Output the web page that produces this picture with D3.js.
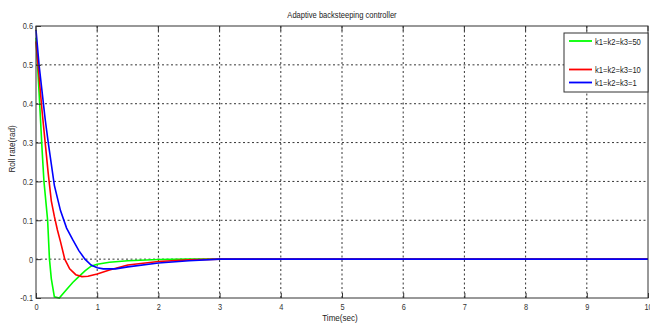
<!DOCTYPE html>
<html><head><meta charset="utf-8">
<script src="https://cdn.jsdelivr.net/npm/d3@7"></script>
<style>body{margin:0;background:#fff}svg{display:block}text{font-family:"Liberation Sans",Arial,sans-serif}</style>
</head><body>
<svg id="c" width="650" height="327"></svg>
<script>
const xTicks = [0,1,2,3,4,5,6,7,8,9,10];
const yTicks = [-0.1,0,0.1,0.2,0.3,0.4,0.5,0.6];
const yTickLabels = ["-0.1","0","0.1","0.2","0.3","0.4","0.5","0.6"];
const seriesNames = ["k1=k2=k3=50","k1=k2=k3=10","k1=k2=k3=1"];
const seriesColors = ["#00ff00","#ff0000","#0000ff"];
const tGreen = [0,0.05,0.1,0.13,0.19,0.22,0.25,0.3,0.38,0.5,0.6,0.7,0.8,0.9,1.0,1.2,1.5,2,2.5,3,10];
const vGreen = [0.57,0.43,0.28,0.2,0.1,0,-0.05,-0.097,-0.1,-0.078,-0.06,-0.045,-0.03,-0.018,-0.013,-0.008,-0.004,-0.001,0,0,0];
const tRed = [0,0.05,0.1,0.15,0.2,0.25,0.3,0.35,0.4,0.47,0.55,0.65,0.75,0.85,1.0,1.2,1.5,2,2.5,3,10];
const vRed = [0.56,0.47,0.38,0.3,0.22,0.15,0.11,0.075,0.045,0,-0.025,-0.04,-0.045,-0.044,-0.038,-0.028,-0.015,-0.006,-0.002,0,0];
const tBlue = [0,0.05,0.1,0.15,0.2,0.3,0.4,0.5,0.6,0.7,0.8,0.9,1.0,1.1,1.3,1.5,2,2.5,3,10];
const vBlue = [0.59,0.5,0.43,0.36,0.3,0.19,0.125,0.08,0.05,0.022,0,-0.015,-0.022,-0.025,-0.025,-0.02,-0.01,-0.004,0,0];

const svg = d3.select("#c");
const L=36,R=648,T=26,B=298;
const x = d3.scaleLinear().domain([0,10]).range([L,R]);
const y = d3.scaleLinear().domain([-0.1,0.6]).range([B,T]);
function squeeze(sel,f){ sel.each(function(){ const w=this.getComputedTextLength(); this.setAttribute("textLength",w*f); this.setAttribute("lengthAdjust","spacingAndGlyphs"); }); }

// grid
const g = svg.append("g");
g.selectAll(".gx").data(xTicks.slice(1,-1)).enter().append("line")
 .attr("x1",d=>x(d)).attr("x2",d=>x(d)).attr("y1",T).attr("y2",B)
 .attr("stroke","#000").attr("stroke-width",0.8).attr("stroke-dasharray","2,2.5");
g.selectAll(".gy").data(yTicks.slice(1,-1)).enter().append("line")
 .attr("x1",L).attr("x2",R).attr("y1",d=>y(d)).attr("y2",d=>y(d))
 .attr("stroke","#000").attr("stroke-width",0.8).attr("stroke-dasharray","2,2.5");

// series
const line = d3.line().x(d=>x(d[0])).y(d=>y(d[1]));
const series = [[tGreen,vGreen],[tRed,vRed],[tBlue,vBlue]];
series.forEach((s,i)=>{
  const pts = s[0].map((t,j)=>[t,s[1][j]]);
  svg.append("path").datum(pts).attr("d",line).attr("fill","none")
   .attr("stroke",seriesColors[i]).attr("stroke-width",1.6);
});

// axes box
svg.append("rect").attr("x",L).attr("y",T).attr("width",R-L).attr("height",B-T)
 .attr("fill","none").attr("stroke","#333").attr("stroke-width",1);

// ticks
const xa = d3.axisBottom(x).tickValues(xTicks).tickSize(-5).tickPadding(5.5).tickFormat(d3.format("d"));
const xg = svg.append("g").attr("transform",`translate(0,${B})`).call(xa);
const ya = d3.axisLeft(y).tickValues(yTicks).tickSize(-5).tickPadding(3).tickFormat((d,i)=>yTickLabels[i]);
const yg = svg.append("g").attr("transform",`translate(${L},0)`).call(ya);
[xg,yg].forEach(a=>{
  a.select(".domain").remove();
  a.selectAll("line").attr("stroke","#333");
  a.selectAll("text").attr("fill","#333").style("font-size","9px").style("font-family","'Liberation Sans',Arial,sans-serif");
  squeeze(a.selectAll("text"),0.82);
});
// top ticks
svg.append("g").selectAll("line").data(xTicks).enter().append("line")
 .attr("x1",d=>x(d)).attr("x2",d=>x(d)).attr("y1",T).attr("y2",T+5).attr("stroke","#333");

// labels
const title = svg.append("text").attr("x",342).attr("y",18).attr("text-anchor","middle")
 .style("font-size","9px").attr("fill","#222").text("Adaptive backsteeping controller");
squeeze(title,0.84);
const xl = svg.append("text").attr("x",340).attr("y",320.5).attr("text-anchor","middle")
 .style("font-size","9.5px").attr("fill","#222").text("Time(sec)");
squeeze(xl,0.85);
const yl = svg.append("text").attr("transform","translate(15,149) rotate(-90)").attr("text-anchor","middle")
 .style("font-size","9.5px").attr("fill","#222").text("Roll rate(rad)");
squeeze(yl,0.85);

// legend
const lg = svg.append("g");
lg.append("rect").attr("x",564).attr("y",33).attr("width",84).attr("height",59)
 .attr("fill","#fff").attr("stroke","#333").attr("stroke-width",1);
const ly = [41,69.5,82.5];
seriesNames.forEach((n,i)=>{
  lg.append("line").attr("x1",569).attr("x2",592).attr("y1",ly[i]).attr("y2",ly[i])
   .attr("stroke",seriesColors[i]).attr("stroke-width",1.8);
  const t = lg.append("text").attr("x",595).attr("y",ly[i]+3.5).style("font-size","9.5px")
   .attr("fill","#222").text(n);
  squeeze(t,0.8);
});
</script>
</body></html>
